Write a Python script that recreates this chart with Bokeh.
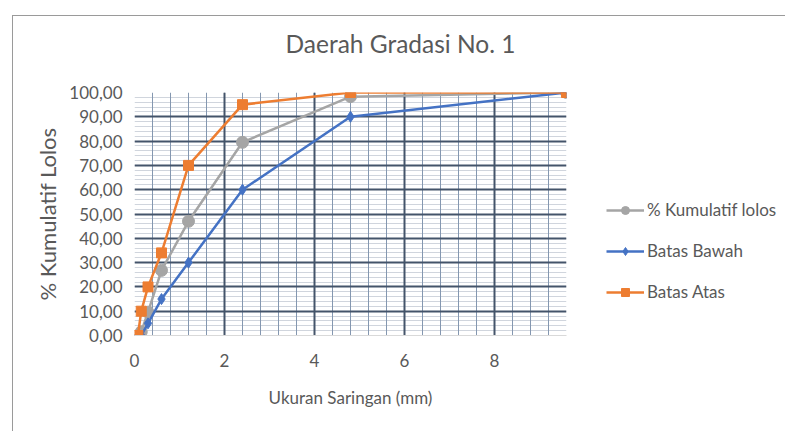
from bokeh.plotting import figure
from bokeh.embed import file_html
from bokeh.resources import INLINE
from bokeh.layouts import row, column
from bokeh.models import (Range1d, SingleIntervalTicker, CustomJSTickFormatter, Legend, LegendItem,
                          Spacer, Title, Grid)

# data
sieve_lolos = [0.15, 0.3, 0.6, 1.2, 2.4, 4.8, 9.6]
kumulatif_lolos = [1.5, 9.6, 26.8, 47.0, 79.5, 98.3, 100.0]
sieve_batas = [0.075, 0.15, 0.3, 0.6, 1.2, 2.4, 4.8, 9.6]
batas_bawah = [0, 0, 5, 15, 30, 60, 90, 100]
batas_atas = [0, 10, 20, 34, 70, 95, 100, 100]
series_names = ["% Kumulatif lolos", "Batas Bawah", "Batas Atas"]
title_text = "Daerah Gradasi No. 1"
x_label = "Ukuran Saringan (mm)"
y_label = "% Kumulatif Lolos"

FONT = "Lato"
TXT = "#595959"
BORDER = "1px solid #9A9A9A"
c_gray, c_blue, c_orange = "#A5A5A5", "#4472C4", "#ED7D31"

PW, PH = 577, 416
p = figure(width=PW, height=PH, output_backend="svg", toolbar_location=None,
           x_range=Range1d(0, 9.6), y_range=Range1d(0, 100),
           min_border_left=121, min_border_right=24, min_border_top=76, min_border_bottom=97)
p.title = None
p.styles = {"border-left": BORDER, "border-top": BORDER}
p.outline_line_color = None
p.background_fill_color = "white"
p.border_fill_color = "white"

# empty gap title (closest to the frame) then the real title above it
p.add_layout(Title(text=" ", text_font=FONT, text_font_size="27px", standoff=0), "above")
p.add_layout(Title(text=title_text, align="left", offset=151, standoff=0,
                   text_font=FONT, text_font_size="24.5px", text_font_style="normal",
                   text_color=TXT), "above")

xticker = SingleIntervalTicker(interval=2, num_minor_ticks=5)
yticker = SingleIntervalTicker(interval=10, num_minor_ticks=5)
p.xaxis.ticker = xticker
p.yaxis.ticker = yticker
p.yaxis.formatter = CustomJSTickFormatter(code="return tick.toFixed(2).replace('.', ',');")

for ax in (p.xaxis[0], p.yaxis[0]):
    ax.major_label_text_font = FONT
    ax.major_label_text_font_size = "17px"
    ax.major_label_text_color = TXT
    ax.axis_label_text_font = FONT
    ax.axis_label_text_color = TXT
    ax.axis_label_text_font_style = "normal"
    ax.major_tick_line_color = None
    ax.minor_tick_line_color = None
p.xaxis.axis_label_text_font_size = "17px"
p.yaxis.axis_label_text_font_size = "22px"
p.xaxis.axis_line_color = "#D9D9D9"
p.yaxis.axis_line_color = None
p.xaxis.axis_label = x_label
p.yaxis.axis_label = y_label
p.xaxis.major_label_standoff = 12
p.xaxis.axis_label_standoff = 17
p.yaxis.major_label_standoff = 6
p.yaxis.axis_label_standoff = 5

# grids: minor lines first, major lines on top
gy_minor = Grid(dimension=1, ticker=yticker, grid_line_color=None,
                minor_grid_line_color="#D0D5DD", minor_grid_line_width=1)
gx_minor = Grid(dimension=0, ticker=xticker, grid_line_color=None,
                minor_grid_line_color="#8497B0", minor_grid_line_width=1)
gy_major = Grid(dimension=1, ticker=yticker, grid_line_color="#44546A", grid_line_width=2)
gx_major = Grid(dimension=0, ticker=xticker, grid_line_color="#44546A", grid_line_width=2)
p.center = [gy_minor, gx_minor, gy_major, gx_major]

styles = [
    dict(x=sieve_lolos, y=kumulatif_lolos, color=c_gray, marker="circle", size=12),
    dict(x=sieve_batas, y=batas_bawah, color=c_blue, marker="diamond", size=11),
    dict(x=sieve_batas, y=batas_atas, color=c_orange, marker="square", size=10),
]
for s in styles:
    p.line(s["x"], s["y"], line_color=s["color"], line_width=2.5)
    p.scatter(s["x"], s["y"], marker=s["marker"], size=s["size"], fill_color=s["color"], line_color=s["color"])

# legend panel (separate figure to the right of the chart; its frame aligns with the chart's)
LW = 196
pl = figure(width=LW, height=PH, output_backend="svg", toolbar_location=None,
            x_range=Range1d(-1000, -999), y_range=Range1d(-1000, -999),
            min_border=0, x_axis_type=None, y_axis_type=None)
pl.title = None
pl.styles = {"border-top": BORDER}
pl.outline_line_color = None
pl.xgrid.visible = False
pl.ygrid.visible = False
pl.border_fill_color = "white"
pl.background_fill_color = "white"
items = []
for name, s in zip(series_names, styles):
    lr = pl.line(s["x"], s["y"], line_color=s["color"], line_width=2.5)
    mr = pl.scatter(s["x"], s["y"], marker=s["marker"], size=s["size"] - 1,
                    fill_color=s["color"], line_color=s["color"])
    items.append(LegendItem(label=name, renderers=[lr, mr]))
legend = Legend(items=items, location=(17, 33), orientation="vertical")
legend.padding = 0
legend.margin = 0
legend.spacing = 20
legend.glyph_width = 38
legend.glyph_height = 20
legend.label_height = 20
legend.label_standoff = 3
legend.label_text_font = FONT
legend.label_text_font_size = "17px"
legend.label_text_color = TXT
legend.border_line_color = None
legend.background_fill_alpha = 0
pl.add_layout(legend, "center")

layout = column(Spacer(height=15), row(Spacer(width=12), p, pl))
open("out.html", "w").write(file_html(layout, INLINE))
